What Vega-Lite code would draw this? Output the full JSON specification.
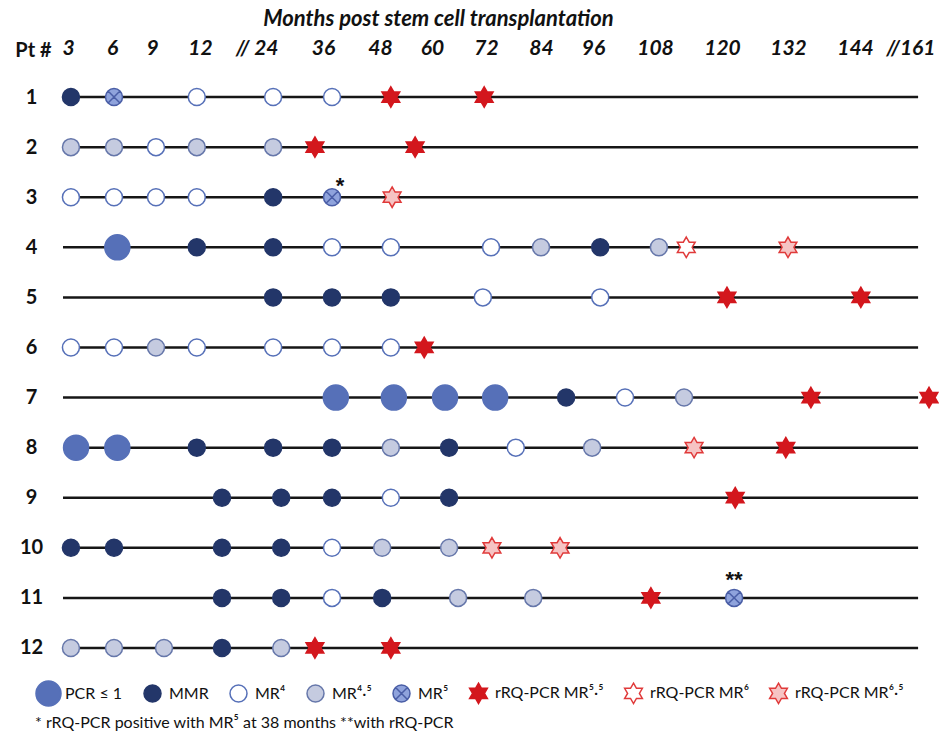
{
  "$schema": "https://vega.github.io/schema/vega-lite/v6.json",
  "width": 879,
  "height": 601,
  "autosize": {"type": "none"},
  "padding": {"left": 60, "top": 72, "right": 0, "bottom": 65},
  "background": "white",
  "config": {
    "view": {"stroke": null},
    "font": "Lato",
    "legend": {
      "orient": "none",
      "legendX": -25,
      "legendY": 608,
      "direction": "horizontal",
      "columns": 8,
      "labelFont": "Lato",
      "labelFontSize": 16,
      "labelColor": "#111111",
      "columnPadding": 16,
      "symbolStrokeWidth": 1.5,
      "symbolOpacity": 1,
      "titleOrient": "bottom",
      "titleAnchor": "start",
      "titleFont": "Lato",
      "titleFontSize": 16,
      "titleFontWeight": "normal",
      "titleColor": "#111111",
      "titleLimit": 0,
      "titlePadding": 6,
      "labelOffset": 3
    }
  },
  "datasets": {
    "lines": [
      {"pt": 1, "start": 2.66, "end": 161.3},
      {"pt": 2, "start": 2.66, "end": 161.3},
      {"pt": 3, "start": 2.66, "end": 161.3},
      {"pt": 4, "start": 2.66, "end": 161.3},
      {"pt": 5, "start": 2.66, "end": 161.3},
      {"pt": 6, "start": 2.66, "end": 161.3},
      {"pt": 7, "start": 2.66, "end": 161.3},
      {"pt": 8, "start": 2.66, "end": 161.3},
      {"pt": 9, "start": 2.66, "end": 161.3},
      {"pt": 10, "start": 2.66, "end": 161.3},
      {"pt": 11, "start": 2.66, "end": 161.3},
      {"pt": 12, "start": 2.66, "end": 161.3}
    ],
    "obs": [
      {"pt": 1, "month": 3.2, "status": "MMR"},
      {"pt": 1, "month": 6.15, "status": "MR⁵"},
      {"pt": 1, "month": 11.8, "status": "MR⁴"},
      {"pt": 1, "month": 25.5, "status": "MR⁴"},
      {"pt": 1, "month": 37.9, "status": "MR⁴"},
      {"pt": 1, "month": 50.5, "status": "rRQ-PCR MR⁵·⁵"},
      {"pt": 1, "month": 71.6, "status": "rRQ-PCR MR⁵·⁵"},
      {"pt": 2, "month": 3.2, "status": "MR⁴·⁵"},
      {"pt": 2, "month": 6.15, "status": "MR⁴·⁵"},
      {"pt": 2, "month": 9.25, "status": "MR⁴"},
      {"pt": 2, "month": 11.8, "status": "MR⁴·⁵"},
      {"pt": 2, "month": 25.5, "status": "MR⁴·⁵"},
      {"pt": 2, "month": 34.3, "status": "rRQ-PCR MR⁵·⁵"},
      {"pt": 2, "month": 56.1, "status": "rRQ-PCR MR⁵·⁵"},
      {"pt": 3, "month": 3.2, "status": "MR⁴"},
      {"pt": 3, "month": 6.15, "status": "MR⁴"},
      {"pt": 3, "month": 9.25, "status": "MR⁴"},
      {"pt": 3, "month": 11.8, "status": "MR⁴"},
      {"pt": 3, "month": 25.5, "status": "MMR"},
      {"pt": 3, "month": 37.9, "status": "MR⁵"},
      {"pt": 3, "month": 50.8, "status": "rRQ-PCR MR⁶·⁵"},
      {"pt": 4, "month": 6.4, "status": "PCR ≤ 1"},
      {"pt": 4, "month": 11.8, "status": "MMR"},
      {"pt": 4, "month": 25.5, "status": "MMR"},
      {"pt": 4, "month": 37.9, "status": "MR⁴"},
      {"pt": 4, "month": 50.5, "status": "MR⁴"},
      {"pt": 4, "month": 73.1, "status": "MR⁴"},
      {"pt": 4, "month": 84.0, "status": "MR⁴·⁵"},
      {"pt": 4, "month": 97.4, "status": "MMR"},
      {"pt": 4, "month": 108.7, "status": "MR⁴·⁵"},
      {"pt": 4, "month": 113.6, "status": "rRQ-PCR MR⁶"},
      {"pt": 4, "month": 132.0, "status": "rRQ-PCR MR⁶·⁵"},
      {"pt": 5, "month": 25.5, "status": "MMR"},
      {"pt": 5, "month": 37.9, "status": "MMR"},
      {"pt": 5, "month": 50.5, "status": "MMR"},
      {"pt": 5, "month": 71.3, "status": "MR⁴"},
      {"pt": 5, "month": 97.4, "status": "MR⁴"},
      {"pt": 5, "month": 120.9, "status": "rRQ-PCR MR⁵·⁵"},
      {"pt": 5, "month": 145.6, "status": "rRQ-PCR MR⁵·⁵"},
      {"pt": 6, "month": 3.2, "status": "MR⁴"},
      {"pt": 6, "month": 6.15, "status": "MR⁴"},
      {"pt": 6, "month": 9.25, "status": "MR⁴·⁵"},
      {"pt": 6, "month": 11.8, "status": "MR⁴"},
      {"pt": 6, "month": 25.5, "status": "MR⁴"},
      {"pt": 6, "month": 37.9, "status": "MR⁴"},
      {"pt": 6, "month": 50.5, "status": "MR⁴"},
      {"pt": 6, "month": 58.2, "status": "rRQ-PCR MR⁵·⁵"},
      {"pt": 7, "month": 38.7, "status": "PCR ≤ 1"},
      {"pt": 7, "month": 51.2, "status": "PCR ≤ 1"},
      {"pt": 7, "month": 62.9, "status": "PCR ≤ 1"},
      {"pt": 7, "month": 74.0, "status": "PCR ≤ 1"},
      {"pt": 7, "month": 89.8, "status": "MMR"},
      {"pt": 7, "month": 102.2, "status": "MR⁴"},
      {"pt": 7, "month": 113.2, "status": "MR⁴·⁵"},
      {"pt": 7, "month": 136.1, "status": "rRQ-PCR MR⁵·⁵"},
      {"pt": 7, "month": 164.3, "status": "rRQ-PCR MR⁵·⁵"},
      {"pt": 8, "month": 3.55, "status": "PCR ≤ 1"},
      {"pt": 8, "month": 6.4, "status": "PCR ≤ 1"},
      {"pt": 8, "month": 11.8, "status": "MMR"},
      {"pt": 8, "month": 25.5, "status": "MMR"},
      {"pt": 8, "month": 37.9, "status": "MMR"},
      {"pt": 8, "month": 50.5, "status": "MR⁴·⁵"},
      {"pt": 8, "month": 63.8, "status": "MMR"},
      {"pt": 8, "month": 78.5, "status": "MR⁴"},
      {"pt": 8, "month": 95.8, "status": "MR⁴·⁵"},
      {"pt": 8, "month": 115.0, "status": "rRQ-PCR MR⁶·⁵"},
      {"pt": 8, "month": 131.6, "status": "rRQ-PCR MR⁵·⁵"},
      {"pt": 9, "month": 16.0, "status": "MMR"},
      {"pt": 9, "month": 27.2, "status": "MMR"},
      {"pt": 9, "month": 37.9, "status": "MMR"},
      {"pt": 9, "month": 50.5, "status": "MR⁴"},
      {"pt": 9, "month": 63.8, "status": "MMR"},
      {"pt": 9, "month": 122.4, "status": "rRQ-PCR MR⁵·⁵"},
      {"pt": 10, "month": 3.2, "status": "MMR"},
      {"pt": 10, "month": 6.15, "status": "MMR"},
      {"pt": 10, "month": 16.0, "status": "MMR"},
      {"pt": 10, "month": 27.2, "status": "MMR"},
      {"pt": 10, "month": 37.9, "status": "MR⁴"},
      {"pt": 10, "month": 48.5, "status": "MR⁴·⁵"},
      {"pt": 10, "month": 63.8, "status": "MR⁴·⁵"},
      {"pt": 10, "month": 73.3, "status": "rRQ-PCR MR⁶·⁵"},
      {"pt": 10, "month": 88.4, "status": "rRQ-PCR MR⁶·⁵"},
      {"pt": 11, "month": 16.0, "status": "MMR"},
      {"pt": 11, "month": 27.2, "status": "MMR"},
      {"pt": 11, "month": 37.9, "status": "MR⁴"},
      {"pt": 11, "month": 48.5, "status": "MMR"},
      {"pt": 11, "month": 65.8, "status": "MR⁴·⁵"},
      {"pt": 11, "month": 82.3, "status": "MR⁴·⁵"},
      {"pt": 11, "month": 107.2, "status": "rRQ-PCR MR⁵·⁵"},
      {"pt": 11, "month": 122.2, "status": "MR⁵"},
      {"pt": 12, "month": 3.2, "status": "MR⁴·⁵"},
      {"pt": 12, "month": 6.15, "status": "MR⁴·⁵"},
      {"pt": 12, "month": 9.75, "status": "MR⁴·⁵"},
      {"pt": 12, "month": 16.0, "status": "MMR"},
      {"pt": 12, "month": 27.2, "status": "MR⁴·⁵"},
      {"pt": 12, "month": 34.3, "status": "rRQ-PCR MR⁵·⁵"},
      {"pt": 12, "month": 50.5, "status": "rRQ-PCR MR⁵·⁵"}
    ],
    "notes": [
      {"pt": 3, "month": 39.6, "note": "*"},
      {"pt": 11, "month": 122.2, "note": "**"}
    ]
  },
  "layer": [
    {
      "data": {"name": "lines"},
      "mark": {"type": "rule", "color": "#161616", "strokeWidth": 2.5},
      "encoding": {
        "x": {
          "field": "start",
          "type": "quantitative",
          "scale": {
            "type": "linear",
            "domain": [3, 6, 9, 12, 24, 36, 48, 60, 72, 84, 96, 108, 120, 132, 144, 161],
            "range": [8, 52, 92, 140, 206, 263, 320, 372, 426, 481, 533, 595, 662, 728, 795, 857],
            "zero": false,
            "nice": false,
            "clamp": false
          },
          "axis": {
            "orient": "top",
            "values": [3, 6, 9, 12, 24, 36, 48, 60, 72, 84, 96, 108, 120, 132, 144, 161],
            "domain": false,
            "ticks": false,
            "grid": false,
            "labelFont": "Lato",
            "labelFontSize": 21,
            "labelFontStyle": "italic",
            "labelFontWeight": "bold",
            "labelColor": "#111111",
            "labelPadding": 14,
            "labelExpr": "datum.value == 24 ? '// 24' : datum.value == 161 ? '//161' : datum.label",
            "labelAlign": {"condition": {"test": "datum.value == 24 || datum.value == 161", "value": "right"}, "value": "center"},
            "labelOffset": {"condition": [{"test": "datum.value == 24", "value": 12}, {"test": "datum.value == 161", "value": 18}], "value": 0},
            "labelOverlap": false,
            "labelFlush": false,
            "title": "Months post stem cell transplantation",
            "titleFont": "Lato",
            "titleFontSize": 22,
            "titleFontStyle": "italic",
            "titleFontWeight": "bold",
            "titleColor": "#111111",
            "titleAlign": "center",
            "titleBaseline": "middle",
            "titleX": 378,
            "titleY": -54
          }
        },
        "x2": {"field": "end"},
        "y": {
          "field": "pt",
          "type": "ordinal",
          "scale": {"type": "point", "domain": [1, 2, 3, 4, 5, 6, 7, 8, 9, 10, 11, 12], "padding": 0.5},
          "axis": {
            "orient": "left",
            "domain": false,
            "ticks": false,
            "grid": false,
            "labelFont": "Lato",
            "labelFontSize": 20,
            "labelFontWeight": "bold",
            "labelColor": "#111111",
            "labelAlign": "center",
            "labelBaseline": "middle",
            "labelPadding": 29,
            "title": "Pt #",
            "titleFont": "Lato",
            "titleFontSize": 20,
            "titleFontWeight": "bold",
            "titleColor": "#111111",
            "titleAngle": 0,
            "titleAlign": "center",
            "titleBaseline": "middle",
            "titleX": -27,
            "titleY": -22
          }
        }
      }
    },
    {
      "data": {"name": "obs"},
      "mark": {"type": "point", "filled": true, "opacity": 1, "strokeWidth": 1.5},
      "encoding": {
        "x": {"field": "month", "type": "quantitative"},
        "y": {"field": "pt", "type": "ordinal"},
        "shape": {
          "field": "status",
          "type": "nominal",
          "title": "* rRQ-PCR positive with MR⁵ at 38 months  **with rRQ-PCR",
          "scale": {
            "domain": ["PCR ≤ 1", "MMR", "MR⁴", "MR⁴·⁵", "MR⁵", "rRQ-PCR MR⁵·⁵", "rRQ-PCR MR⁶", "rRQ-PCR MR⁶·⁵"],
            "range": [
              "circle", "circle", "circle", "circle",
              "M1,0A1,1,0,1,1,-1,0A1,1,0,1,1,1,0ZM-0.7,-0.7L0.7,0.7M-0.7,0.7L0.7,-0.7",
              "M0,-1L0.289,-0.5L0.866,-0.5L0.577,0L0.866,0.5L0.289,0.5L0,1L-0.289,0.5L-0.866,0.5L-0.577,0L-0.866,-0.5L-0.289,-0.5Z",
              "M0,-1L0.289,-0.5L0.866,-0.5L0.577,0L0.866,0.5L0.289,0.5L0,1L-0.289,0.5L-0.866,0.5L-0.577,0L-0.866,-0.5L-0.289,-0.5Z",
              "M0,-1L0.289,-0.5L0.866,-0.5L0.577,0L0.866,0.5L0.289,0.5L0,1L-0.289,0.5L-0.866,0.5L-0.577,0L-0.866,-0.5L-0.289,-0.5Z"
            ]
          }
        },
        "fill": {
          "field": "status",
          "type": "nominal",
          "title": "* rRQ-PCR positive with MR⁵ at 38 months  **with rRQ-PCR",
          "scale": {
            "domain": ["PCR ≤ 1", "MMR", "MR⁴", "MR⁴·⁵", "MR⁵", "rRQ-PCR MR⁵·⁵", "rRQ-PCR MR⁶", "rRQ-PCR MR⁶·⁵"],
            "range": ["#5670b8", "#233669", "#ffffff", "#c5cbe0", "#8fa3dc", "#d3171d", "#ffffff", "#f6c4c4"]
          }
        },
        "stroke": {
          "field": "status",
          "type": "nominal",
          "title": "* rRQ-PCR positive with MR⁵ at 38 months  **with rRQ-PCR",
          "scale": {
            "domain": ["PCR ≤ 1", "MMR", "MR⁴", "MR⁴·⁵", "MR⁵", "rRQ-PCR MR⁵·⁵", "rRQ-PCR MR⁶", "rRQ-PCR MR⁶·⁵"],
            "range": ["#5670b8", "#233669", "#5670b8", "#6677aa", "#4a5ea6", "#d3171d", "#e03a3a", "#e03a3a"]
          }
        },
        "size": {
          "field": "status",
          "type": "nominal",
          "title": "* rRQ-PCR positive with MR⁵ at 38 months  **with rRQ-PCR",
          "scale": {
            "type": "ordinal",
            "domain": ["PCR ≤ 1", "MMR", "MR⁴", "MR⁴·⁵", "MR⁵", "rRQ-PCR MR⁵·⁵", "rRQ-PCR MR⁶", "rRQ-PCR MR⁶·⁵"],
            "range": [625, 289, 289, 289, 289, 420, 420, 420]
          }
        }
      }
    },
    {
      "data": {"name": "notes"},
      "transform": [{"filter": "datum.pt == 3"}],
      "mark": {"type": "text", "font": "Liberation Sans", "fontSize": 22, "fontWeight": "bold", "color": "#111111", "align": "center", "baseline": "alphabetic", "dy": -4},
      "encoding": {
        "x": {"field": "month", "type": "quantitative"},
        "y": {"field": "pt", "type": "ordinal"},
        "text": {"field": "note"}
      }
    },
    {
      "data": {"name": "notes"},
      "transform": [{"filter": "datum.pt == 11"}],
      "mark": {"type": "text", "font": "Liberation Sans", "fontSize": 22, "fontWeight": "bold", "color": "#111111", "align": "center", "baseline": "alphabetic", "dy": -11},
      "encoding": {
        "x": {"field": "month", "type": "quantitative"},
        "y": {"field": "pt", "type": "ordinal"},
        "text": {"field": "note"}
      }
    }
  ]
}
